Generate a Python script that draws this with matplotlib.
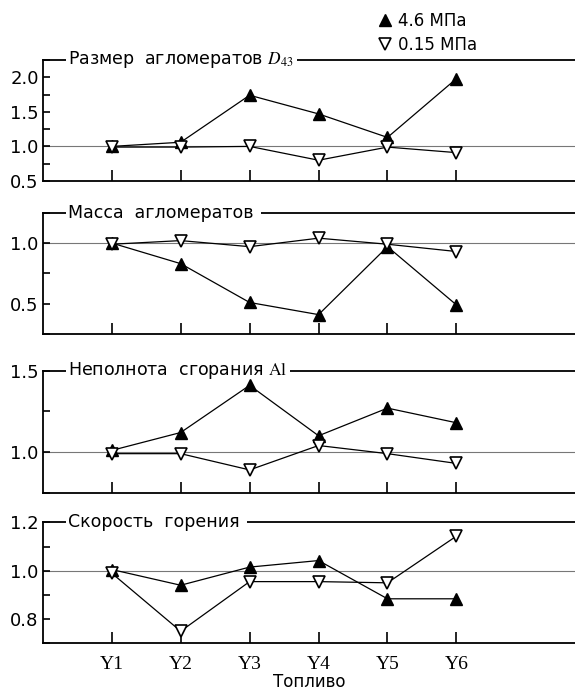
import matplotlib.pyplot as plt
from matplotlib.lines import Line2D
from matplotlib.ticker import MultipleLocator

fuels = ["Y1", "Y2", "Y3", "Y4", "Y5", "Y6"]

titles = ["Размер  агломератов $D_{43}$", "Масса  агломератов",
          "Неполнота  сгорания $\\mathrm{Al}$", "Скорость  горения"]

# 4.6 MPa series, one list per panel
high_d43 = [1.00, 1.06, 1.74, 1.47, 1.13, 1.98]
high_mass = [1.00, 0.83, 0.51, 0.41, 0.97, 0.49]
high_incomplete = [1.01, 1.12, 1.41, 1.10, 1.27, 1.18]
high_rate = [1.005, 0.94, 1.015, 1.042, 0.884, 0.884]

# 0.15 MPa series
low_d43 = [0.99, 0.99, 1.00, 0.80, 0.99, 0.91]
low_mass = [0.99, 1.02, 0.97, 1.04, 0.99, 0.93]
low_incomplete = [0.99, 0.99, 0.89, 1.04, 0.99, 0.93]
low_rate = [0.99, 0.75, 0.955, 0.955, 0.95, 1.143]

highs = [high_d43, high_mass, high_incomplete, high_rate]
lows = [low_d43, low_mass, low_incomplete, low_rate]

ylims = [(0.5, 2.25), (0.25, 1.25), (0.75, 1.5), (0.7, 1.2)]
major_steps = [0.5, 0.5, 0.5, 0.2]
minor_steps = [0.25, 0.25, 0.25, 0.1]

# panel boxes as (bottom, top) figure fractions
boxes = [(0.7381, 0.9132), (0.5166, 0.6922), (0.2870, 0.4635), (0.0690, 0.2441)]

plt.rcParams['font.family'] = ['DejaVu Sans']
plt.rcParams['mathtext.fontset'] = 'stix'

fig = plt.figure(figsize=(5.75, 6.91), dpi=100)
x = list(range(1, len(fuels) + 1))
left = 42.8 / 575

for i in range(4):
    b, t = boxes[i]
    ax = fig.add_axes([left, b, 1.0 - left, t - b])
    ax.axhline(1.0, color='#777777', lw=0.8, zorder=1)
    ax.plot(x, highs[i], color='black', lw=0.9, marker='^', ms=9,
            mfc='black', mec='black', zorder=3, clip_on=False)
    ax.plot(x, lows[i], color='black', lw=0.9, marker='v', ms=9,
            mfc='white', mec='black', mew=1.2, zorder=4, clip_on=False)
    ax.set_xlim(0, 7.72)
    ax.set_ylim(*ylims[i])
    ax.yaxis.set_major_locator(MultipleLocator(major_steps[i]))
    ax.yaxis.set_minor_locator(MultipleLocator(minor_steps[i]))
    ax.yaxis.set_major_formatter(plt.FormatStrFormatter("%.1f"))
    ax.set_xticks(x)
    ax.spines['right'].set_visible(False)
    for s in ['left', 'bottom', 'top']:
        ax.spines[s].set_linewidth(1.3)
    ax.tick_params(axis='y', which='both', direction='in', length=5,
                   width=1.2, labelsize=13, pad=3)
    ax.tick_params(axis='x', direction='in', length=8, width=1.2,
                   labelsize=14, pad=9)
    if i < 3:
        ax.set_xticklabels([])
    else:
        ax.set_xticklabels(fuels, family='Liberation Serif')
        ax.set_xlabel("Топливо", fontsize=12, labelpad=0)
    # panel title sits on the top spine, masking it with a white box
    ax.text(0.047, 1.0, titles[i] + " ", transform=ax.transAxes,
            ha='left', va='center', fontsize=12.5, zorder=2.8,
            bbox=dict(facecolor='white', edgecolor='none', pad=1.5))

handles = [
    Line2D([], [], ls='none', marker='^', ms=9, mfc='black', mec='black'),
    Line2D([], [], ls='none', marker='v', ms=9, mfc='white', mec='black', mew=1.2),
]
fig.legend(handles, ["4.6 МПа", "0.15 МПа"], loc='upper left',
           bbox_to_anchor=(365 / 575, 1.0 - 2 / 691), frameon=False,
           fontsize=12, handletextpad=0.2, handlelength=1.2,
           labelspacing=0.35, borderpad=0.1)

fig.savefig("out.png", dpi=100)
